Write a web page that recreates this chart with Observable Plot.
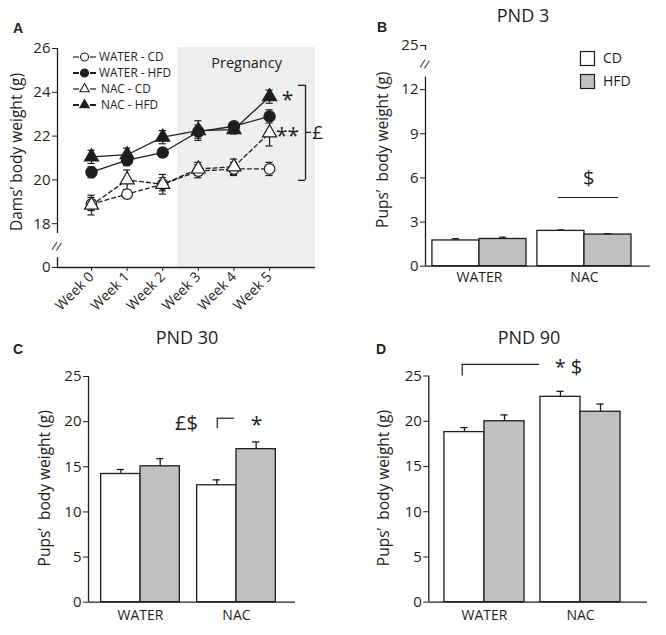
<!DOCTYPE html>
<html><head><meta charset="utf-8">
<script src="https://cdn.jsdelivr.net/npm/d3@7"></script>
<script src="https://cdn.jsdelivr.net/npm/@observablehq/plot@0.6"></script>
<style>
body{margin:0;background:#fff;}
#root{position:relative;width:666px;height:635px;font-family:"Open Sans",sans-serif;color:#1e1e1e;overflow:hidden;background:#fff;}
.panel{position:absolute;}
.letter{position:absolute;font-family:"Liberation Sans",Arial,sans-serif;font-weight:bold;font-size:14px;transform:translate(-50%,-50%);}
.title{position:absolute;font-size:18px;transform:translate(-50%,-50%);white-space:nowrap;}
</style></head><body><div id="root"></div>
<script>
// ---------- Panel A data ----------
const weeks = [0, 1, 2, 3, 4, 5];
const weekLabels = ["Week 0", "Week 1", "Week 2", "Week 3", "Week 4", "Week 5"];
const seriesNames = ["WATER - CD", "WATER - HFD", "NAC - CD", "NAC - HFD"];
const waterCD = [18.9, 19.35, 19.8, 20.4, 20.5, 20.5];
const waterCDErr = [0.3, 0.2, 0.3, 0.3, 0.3, 0.3];
const waterHFD = [20.35, 20.9, 21.25, 22.2, 22.45, 22.9];
const waterHFDErr = [0.25, 0.25, 0.2, 0.3, 0.15, 0.3];
const nacCD = [18.85, 20.0, 19.8, 20.5, 20.6, 22.15];
const nacCDErr = [0.45, 0.45, 0.45, 0.3, 0.35, 0.6];
const nacHFD = [21.05, 21.15, 21.95, 22.25, 22.3, 23.8];
const nacHFDErr = [0.3, 0.3, 0.3, 0.45, 0.2, 0.3];
const pregnancyStart = 2.42;
const damTicks = [16, 18, 20, 22, 24, 26];
const damTickLabels = ["0", "18", "20", "22", "24", "26"];
const annotationsA = [{week: 5, value: 23.85, label: "*"}, {week: 5, value: 22.2, label: "**"}];
const bracketA = [{x: 6.01, y1: 19.98, y2: 24.32, mid: 22.17, label: "£"}];

// ---------- Panels B-D data ----------
const groups = ["WATER", "NAC"];
const diets = ["CD", "HFD"];
const pnd3CD = [1.75, 2.4], pnd3CDErr = [0.12, 0.06];
const pnd3HFD = [1.85, 2.15], pnd3HFDErr = [0.12, 0.06];
const pnd30CD = [14.2, 12.95], pnd30CDErr = [0.5, 0.6];
const pnd30HFD = [15.05, 16.95], pnd30HFDErr = [0.85, 0.8];
const pnd90CD = [18.8, 22.7], pnd90CDErr = [0.5, 0.6];
const pnd90HFD = [20.0, 21.05], pnd90HFDErr = [0.7, 0.85];
const pnd3Ticks = [0, 3, 6, 9, 12, 15];
const pnd3TickLabels = ["0", "3", "6", "9", "12", "25"];
const pupTicks = [0, 5, 10, 15, 20, 25];
const sigB = [{label: "$", x: 1.04, y: 5.96, x1: 0.752, x2: 1.324, ly: 4.67}];
const sigC = [{label: "£$", x: 0.479, y: 19.8, star: "*", sx: 1.21, sy: 20.1, bx1: 0.80, bx2: 0.98, by: 20.38, by2: 19.2}];
const sigD = [{label: "* $", x: 0.875, y: 26.1, bx1: -0.232, bx2: 0.573, by: 26.28, by2: 25.0}];

// ---------- styling ----------
const ink = "#1e1e1e";
const font = '"Open Sans", sans-serif';
const root = document.getElementById("root");
function place(el, left, top) {
  const d = document.createElement("div");
  d.className = "panel"; d.style.left = left + "px"; d.style.top = top + "px";
  d.appendChild(el); root.appendChild(d); return d;
}
function html(cls, text, x, y) {
  const d = document.createElement("div");
  d.className = cls; d.textContent = text; d.style.left = x + "px"; d.style.top = y + "px";
  root.appendChild(d);
}
function yLabel(text, dx, dy) {
  return Plot.text([text], {frameAnchor: "left", text: d => d, rotate: -90, dx, dy, fontSize: 15.5, textAnchor: "middle", lineAnchor: "middle"});
}

// ---------- Panel A ----------
(function () {
  const values = [waterCD, waterHFD, nacCD, nacHFD];
  const errs = [waterCDErr, waterHFDErr, nacCDErr, nacHFDErr];
  const look = [
    {symbol: "circle", fill: "white", dash: "4,3", r: 5.3},
    {symbol: "circle", fill: ink, dash: null, r: 5.6},
    {symbol: "triangle", fill: "white", dash: "4,3", r: 5.2},
    {symbol: "triangle", fill: ink, dash: null, r: 5.2}
  ];
  const rows = seriesNames.flatMap((s, si) => weeks.map((w, i) => ({series: s, si, week: w, value: values[si][i], err: errs[si][i]})));
  const xDomain = [-0.955, 6.29];
  const cap = 0.1;
  const marks = [
    Plot.rect([{start: pregnancyStart, end: xDomain[1]}], {x1: "start", x2: "end", y1: 16, y2: 26.05, fill: "#efefef"}),
    Plot.text(["Pregnancy"], {x: (pregnancyStart + xDomain[1]) / 2, y: 25.3, text: d => d, fontSize: 14.5}),
    Plot.ruleY([16], {stroke: ink, strokeWidth: 1.3}),
    Plot.ruleX([{from: 17.55, to: 26}, {from: 16, to: 16.45}], {x: xDomain[0], y1: "from", y2: "to", stroke: ink, strokeWidth: 1.3}),
    Plot.text(["//"], {x: xDomain[0], y: 16.95, text: d => d, fontSize: 12, dx: -1, rotate: 12}),
    Plot.axisY({ticks: damTicks, tickFormat: d => damTickLabels[damTicks.indexOf(d)], tickSize: 5, tickPadding: 2, fontSize: 15, label: null, stroke: ink}),
    yLabel("Dams’ body weight (g)", -40, -6),
    Plot.axisX({ticks: weeks, tickFormat: d => weekLabels[d], tickRotate: -45, tickSize: 4, tickPadding: 3, fontSize: 14, label: null, stroke: ink})
  ];
  seriesNames.forEach((s, si) => {
    const data = rows.filter(r => r.si === si);
    marks.push(Plot.line(data, {x: "week", y: "value", stroke: ink, strokeWidth: 1.3, strokeDasharray: look[si].dash}));
  });
  marks.push(Plot.ruleX(rows, {x: "week", y1: r => r.value - r.err, y2: r => r.value + r.err, stroke: ink, strokeWidth: 1.2}));
  marks.push(Plot.ruleY(rows, {y: r => r.value + r.err, x1: r => r.week - cap, x2: r => r.week + cap, stroke: ink, strokeWidth: 1.2}));
  marks.push(Plot.ruleY(rows, {y: r => r.value - r.err, x1: r => r.week - cap, x2: r => r.week + cap, stroke: ink, strokeWidth: 1.2}));
  seriesNames.forEach((s, si) => {
    const data = rows.filter(r => r.si === si);
    marks.push(Plot.dot(data, {x: "week", y: "value", symbol: look[si].symbol, r: look[si].r, fill: look[si].fill, stroke: ink, strokeWidth: 1.2}));
  });
  marks.push(Plot.text(annotationsA, {x: "week", y: "value", text: "label", dx: 18, dy: 5, fontSize: 21, textAnchor: "middle"}));
  marks.push(Plot.ruleX(bracketA, {x: "x", y1: "y1", y2: "y2", stroke: ink, strokeWidth: 1.3}));
  marks.push(Plot.ruleY(bracketA, {y: "y1", x1: d => d.x - 0.2, x2: "x", stroke: ink, strokeWidth: 1.3}));
  marks.push(Plot.ruleY(bracketA, {y: "y2", x1: d => d.x - 0.2, x2: "x", stroke: ink, strokeWidth: 1.3}));
  marks.push(Plot.ruleY(bracketA, {y: "mid", x1: "x", x2: d => d.x + 0.17, stroke: ink, strokeWidth: 1.3}));
  marks.push(Plot.text(bracketA, {x: d => d.x + 0.19, y: "mid", text: "label", textAnchor: "start", fontSize: 19, dy: 1}));
  const chart = Plot.plot({
    width: 340, height: 320, marginLeft: 57, marginRight: 25, marginTop: 48, marginBottom: 53,
    x: {domain: xDomain}, y: {domain: [16, 26]},
    style: {fontFamily: font, fontSize: "15px", color: ink, background: "transparent", overflow: "visible"},
    marks
  });
  place(chart, 0, 0);

  // legend
  const lg = d3.create("svg").attr("width", 120).attr("height", 72).style("overflow", "visible");
  const ys = [57, 73, 89, 105];
  seriesNames.forEach((s, si) => {
    const g = lg.append("g").attr("transform", `translate(0,${ys[si] - 48})`);
    g.append("line").attr("x1", 3).attr("x2", 9).attr("stroke", ink).attr("stroke-width", si % 2 ? 2 : 1.2);
    g.append("line").attr("x1", 20).attr("x2", 26).attr("stroke", ink).attr("stroke-width", si % 2 ? 2 : 1.2);
    const sym = d3.symbol(look[si].symbol === "circle" ? d3.symbolCircle : d3.symbolTriangle, look[si].symbol === "circle" ? 50 : 38);
    g.append("path").attr("d", sym()).attr("transform", "translate(14.5,0)").attr("fill", look[si].fill).attr("stroke", ink).attr("stroke-width", 1.1);
    g.append("text").attr("x", si < 2 ? 29 : 31).attr("y", 0).attr("dy", "0.35em").attr("font-size", 11.8).attr("font-family", font).attr("fill", ink).text(s);
  });
  place(lg.node(), 70, 48);
})();

// ---------- bar panels ----------
function barPanel(o) {
  const rows = groups.flatMap((g, gi) => diets.map((d, di) => ({group: g, diet: d, gi, di, mean: o.means[di][gi], err: o.errs[di][gi]})));
  const px = (o.width - o.marginLeft - o.marginRight) / (o.xDomain[1] - o.xDomain[0]);
  const cap = 3.6 / px;
  const bw = o.barWidth;
  const cx = r => r.gi + bw * (r.di - 0.5);
  const marks = [
    Plot.rect(rows, {x1: r => r.gi - bw * (1 - r.di), x2: r => r.gi + bw * r.di, y1: 0, y2: "mean", fill: "diet", stroke: ink, strokeWidth: 1.3}),
    Plot.ruleX(rows, {x: cx, y1: "mean", y2: r => r.mean + r.err, stroke: ink, strokeWidth: 1.3}),
    Plot.ruleY(rows, {y: r => r.mean + r.err, x1: r => cx(r) - cap, x2: r => cx(r) + cap, stroke: ink, strokeWidth: 1.3}),
    Plot.ruleY([0], {stroke: ink, strokeWidth: 1.3}),
    Plot.ruleX(o.axisSegments, {x: o.xDomain[0], y1: "from", y2: "to", stroke: ink, strokeWidth: 1.3}),
    Plot.axisY({ticks: o.yTicks, tickFormat: d => o.yTickLabels[o.yTicks.indexOf(d)], tickSize: 5, tickPadding: 2, fontSize: 15, label: null, stroke: ink}),
    yLabel("Pups’  body weight (g)", o.labelDx, o.labelDy),
    Plot.axisX({ticks: [0, 1], tickFormat: i => groups[i], tickSize: 0, tickPadding: o.tickPadding, fontSize: 14, label: null}),
    ...o.extra
  ];
  return Plot.plot({
    width: o.width, height: o.height, marginLeft: o.marginLeft, marginRight: o.marginRight, marginTop: o.marginTop, marginBottom: o.marginBottom,
    x: {domain: o.xDomain}, y: {domain: o.yDomain},
    color: {domain: diets, range: ["#ffffff", "#c0c0c0"]},
    style: {fontFamily: font, fontSize: "15px", color: ink, background: "transparent", overflow: "visible"},
    marks
  });
}

// Panel B
place(barPanel({
  means: [pnd3CD, pnd3HFD], errs: [pnd3CDErr, pnd3HFDErr],
  width: 326, height: 320, marginLeft: 85, marginRight: 16, marginTop: 45, marginBottom: 54.3,
  xDomain: [-0.514, 1.629], yDomain: [0, 15], yTicks: pnd3Ticks, yTickLabels: pnd3TickLabels,
  barWidth: 0.448, labelDx: -42.5, labelDy: -6, tickPadding: 6,
  axisSegments: [{from: 0, to: 12.85}, {from: 14.65, to: 15}],
  extra: [
    Plot.text(["//"], {x: -0.514, y: 13.71, text: d => d, fontSize: 12, dx: -1, rotate: 12}),
    Plot.ruleY(sigB, {y: "ly", x1: "x1", x2: "x2", stroke: ink, strokeWidth: 1.2}),
    Plot.text(sigB, {x: "x", y: "y", text: "label", fontSize: 20})
  ]
}), 340, 0);

// Panel C
place(barPanel({
  means: [pnd30CD, pnd30HFD], errs: [pnd30CDErr, pnd30HFDErr],
  width: 340, height: 315, marginLeft: 88, marginRight: 45, marginTop: 56, marginBottom: 33.3,
  xDomain: [-0.542, 1.615], yDomain: [0, 25], yTicks: pupTicks, yTickLabels: pupTicks.map(String),
  barWidth: 0.41, labelDx: -43, labelDy: -1, tickPadding: 8,
  axisSegments: [{from: 0, to: 25}],
  extra: [
    Plot.text(sigC, {x: "x", y: "y", text: "label", fontSize: 20}),
    Plot.text(sigC, {x: "sx", y: "sy", text: "star", fontSize: 21, dy: 5}),
    Plot.ruleY(sigC, {y: "by", x1: "bx1", x2: "bx2", stroke: ink, strokeWidth: 1.2}),
    Plot.ruleX(sigC, {x: "bx1", y1: "by2", y2: "by", stroke: ink, strokeWidth: 1.2})
  ]
}), 0, 320);

// Panel D
place(barPanel({
  means: [pnd90CD, pnd90HFD], errs: [pnd90CDErr, pnd90HFDErr],
  width: 326, height: 315, marginLeft: 88.3, marginRight: 19, marginTop: 55.5, marginBottom: 33.3,
  xDomain: [-0.58, 1.698], yDomain: [0, 25], yTicks: pupTicks, yTickLabels: pupTicks.map(String),
  barWidth: 0.417, labelDx: -44.8, labelDy: -1, tickPadding: 8,
  axisSegments: [{from: 0, to: 25}],
  extra: [
    Plot.text(sigD, {x: "x", y: "y", text: "label", fontSize: 20, dy: 2}),
    Plot.ruleY(sigD, {y: "by", x1: "bx1", x2: "bx2", stroke: ink, strokeWidth: 1.2}),
    Plot.ruleX(sigD, {x: "bx1", y1: "by2", y2: "by", stroke: ink, strokeWidth: 1.2})
  ]
}), 340, 320);

// Legend B
(function () {
  const lg = d3.create("svg").attr("width", 80).attr("height", 40).style("overflow", "visible");
  diets.forEach((d, i) => {
    lg.append("rect").attr("x", 0.5).attr("y", 0.5 + i * 23).attr("width", 14).attr("height", 14)
      .attr("fill", i ? "#c0c0c0" : "#fff").attr("stroke", ink).attr("stroke-width", 1.2);
    lg.append("text").attr("x", 23).attr("y", 7.5 + i * 23).attr("dy", "0.35em").attr("font-size", 14).attr("font-family", font).attr("fill", ink).text(d);
  });
  place(lg.node(), 580, 51);
})();

// Titles and panel letters
html("title", "PND 3", 523, 15);
html("title", "PND 30", 187, 337);
html("title", "PND 90", 529, 337);
html("letter", "A", 18, 28);
html("letter", "B", 382, 27);
html("letter", "C", 18, 349);
html("letter", "D", 381, 349);
</script></body></html>
